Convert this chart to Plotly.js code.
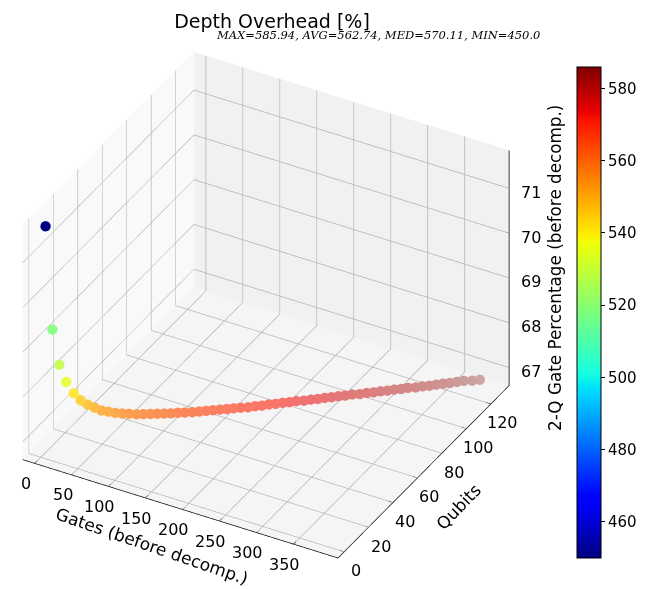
<!DOCTYPE html>
<html><head><meta charset="utf-8">
<script src="https://cdn.plot.ly/plotly-3.0.1.min.js"></script>
<style>html,body{margin:0;padding:0;background:#fff}#c{width:656px;height:589px}</style></head>
<body><div id="c"></div>
<script>
const gates=[3,9,15,21,28,34,40,46,52,58,64,70,76,83,89,95,101,107,113,119,125,132,138,144,150,156,162,168,174,181,187,193,199,205,211,217,223,230,236,242,248,254,260,266,272,279,285,291,297,303,309,315,321,328,334,340,346,352,358,364,370,378,385];
const qubits=[2,4,6,8,10,12,14,16,18,20,22,24,26,28,30,32,34,36,38,40,42,44,46,48,50,52,54,56,58,60,62,64,66,68,70,72,74,76,78,80,82,84,86,88,90,92,94,96,98,100,102,104,106,108,110,112,114,116,118,120,122,124,126];
const twoQ=[71.72,69.39,68.58,68.17,67.9,67.72,67.6,67.51,67.42,67.37,67.32,67.28,67.25,67.22,67.2,67.18,67.16,67.14,67.12,67.11,67.09,67.08,67.07,67.06,67.05,67.04,67.03,67.02,67.01,67.0,67.0,66.99,66.99,66.98,66.98,66.97,66.97,66.96,66.96,66.95,66.95,66.94,66.94,66.93,66.93,66.92,66.92,66.91,66.91,66.9,66.9,66.89,66.89,66.88,66.88,66.87,66.87,66.87,66.86,66.86,66.86,66.85,66.85];
const overhead=[450,518,529,536,541,545,548,550,552,553,554.5,556,557,558,559,560,560.8,561.5,562.2,562.9,563.6,564.3,565,565.6,566.2,566.8,567.4,568,568.6,569.1,569.6,570.11,570.7,571.3,571.9,572.5,573,573.5,574,574.5,575,575.5,576,576.5,577,577.5,578,578.5,579,579.5,580,580.5,581,581.5,582,582.5,583,583.5,584,584.4,584.9,585.4,585.94];
const tickX=[0,50,100,150,200,250,300,350];
const tickY=[0,20,40,60,80,100,120];
const tickZ=[67,68,69,70,71];
const tickC=[460,480,500,520,540,560,580];
const rangeX=[-16,410], rangeY=[-5,135], rangeZ=[66.6,71.85];
const cmin=450, cmax=585.94;
const eye={x:.79,y:-1.42,z:1.1}, aspect={x:1.27,y:1.24,z:1.0};
const ch=(k,t)=>{let i=0;while(i<k.length-2&&t>k[i+1][0])i++;const a=k[i],b=k[i+1];return a[1]+(b[1]-a[1])*Math.min(1,Math.max(0,(t-a[0])/(b[0]-a[0])));};
const R=[[0,0],[.35,0],[.66,1],[.89,1],[1,.5]],G=[[0,0],[.125,0],[.375,1],[.64,1],[.91,0],[1,0]],B=[[0,.5],[.11,1],[.34,1],[.65,0],[1,0]];
// jet colour, faded towards the pane grey by a
const jet=(t,a)=>{const m=c=>Math.round(255*c*a+245*(1-a));return `rgb(${m(ch(R,t))},${m(ch(G,t))},${m(ch(B,t))})`;};
const stops=[0,.11,.125,.34,.35,.375,.64,.65,.66,.89,.91,1].map(s=>[s,jet(s,1)]);
// depth shading like the reference: nearer points are stronger
const norm=(v,r)=>(v-r[0])/(r[1]-r[0]);
const depth=overhead.map((_,i)=>eye.x*aspect.x*norm(gates[i],rangeX)+eye.y*aspect.y*norm(qubits[i],rangeY)+eye.z*aspect.z*norm(twoQ[i],rangeZ));
const dMin=Math.min(...depth), dMax=Math.max(...depth);
const colors=overhead.map((v,i)=>jet(norm(v,[cmin,cmax]),.33+.67*Math.pow(norm(depth[i],[dMin,dMax]),.65)));
const font='"DejaVu Sans"';
const ax=(range,vals,bg,line)=>({title:{text:''},range,tickmode:'array',tickvals:vals,showticklabels:false,
 showgrid:true,gridcolor:'#b0b0b0',gridwidth:1.5,showbackground:true,backgroundcolor:bg,showline:line,linecolor:'#000',linewidth:1.5,
 ticks:'',zeroline:false,showspikes:false,mirror:false});
// tick marks and right-hand z axis line, from the ticks and ranges
const dx=(rangeX[1]-rangeX[0])/70, dy=(rangeY[1]-rangeY[0])/70;
const sx=[],sy=[],sz=[];
const seg=(a,b)=>{sx.push(a[0],b[0],null);sy.push(a[1],b[1],null);sz.push(a[2],b[2],null);};
tickX.forEach(v=>seg([v,rangeY[0]-dy*.4,rangeZ[0]],[v,rangeY[0]+dy,rangeZ[0]]));
tickY.forEach(v=>seg([rangeX[1]-dx,v,rangeZ[0]],[rangeX[1]+dx*.8,v,rangeZ[0]]));
tickZ.forEach(v=>seg([rangeX[1]-dx,rangeY[1],v],[rangeX[1]+dx*.8,rangeY[1],v]));
seg([rangeX[1],rangeY[1],rangeZ[0]],[rangeX[1],rangeY[1],rangeZ[1]]);
const lab=(x,y,z,text,xshift,yshift)=>({x,y,z,text,xshift,yshift,showarrow:false,xanchor:'center',yanchor:'middle',font:{family:font,size:16,color:'#000'}});
const sceneAnn=[
 ...tickX.map(v=>lab(v,rangeY[0],rangeZ[0],String(v),-9,-20)),
 ...tickY.map(v=>lab(rangeX[1],v,rangeZ[0],String(v),12,-19)),
 ...tickZ.map(v=>lab(rangeX[1],rangeY[1],v,String(v),22,-4)),
 {...lab(180,rangeY[0],rangeZ[0],'Gates (before decomp.)',-16,-41),textangle:19,font:{family:font,size:17,color:'#000'}},
 {...lab(rangeX[1],60,rangeZ[0],'Qubits',41,-29),textangle:-46,font:{family:font,size:17,color:'#000'}}
];
Plotly.newPlot('c',[
 {type:'scatter3d',mode:'lines',x:sx,y:sy,z:sz,line:{color:'#000',width:1.5},hoverinfo:'skip',showlegend:false},
 {type:'scatter3d',mode:'markers',x:gates,y:qubits,z:twoQ,marker:{size:6,color:colors,line:{width:0}},hoverinfo:'skip',showlegend:false},
 {type:'scatter3d',mode:'markers',x:gates,y:qubits,z:twoQ,opacity:0,marker:{size:1,color:overhead,cmin,cmax,colorscale:stops,showscale:true,
   colorbar:{x:577/656,xanchor:'left',xpad:0,ypad:0,y:1-558/589,yanchor:'bottom',len:491/589,lenmode:'fraction',thickness:24,thicknessmode:'pixels',tickmode:'array',tickvals:tickC,ticktext:tickC.map(String),ticks:'outside',ticklen:4,tickcolor:'#000',
   tickfont:{family:font,size:15,color:'#000'},outlinecolor:'#000',outlinewidth:1}},hoverinfo:'skip',showlegend:false}
],{width:656,height:589,margin:{l:0,r:0,t:0,b:0},paper_bgcolor:'#fff',showlegend:false,
 title:{text:'Depth Overhead [%]',font:{family:font,size:19,color:'#000'},x:272/656,xanchor:'center',y:1-21/589,yanchor:'middle',xref:'paper',yref:'paper'},
 annotations:[
  {text:'<i>MAX=585.94, AVG=562.74, MED=570.11, MIN=450.0</i>',xref:'paper',yref:'paper',x:378/656,y:1-35.5/589,xanchor:'center',yanchor:'middle',showarrow:false,font:{family:'"DejaVu Serif"',size:11.5,color:'#000'},},
  {text:'2-Q Gate Percentage (before decomp.)',xref:'paper',yref:'paper',x:555/656,y:1-268/589,xanchor:'center',yanchor:'middle',textangle:-90,showarrow:false,font:{family:font,size:16.8,color:'#000'}}
 ],
 scene:{domain:{x:[0,532/656],y:[0,568/589]},aspectmode:'manual',aspectratio:aspect,
  camera:{eye,center:{x:0,y:0,z:0},up:{x:0,y:0,z:1},projection:{type:'orthographic'}},
  xaxis:ax(rangeX,tickX,'#f9f9f9',true),
  yaxis:ax(rangeY,tickY,'#f1f1f1',true),
  zaxis:ax(rangeZ,tickZ,'#f5f5f5',false),
  annotations:sceneAnn}
},{displayModeBar:false});
</script></body></html>
